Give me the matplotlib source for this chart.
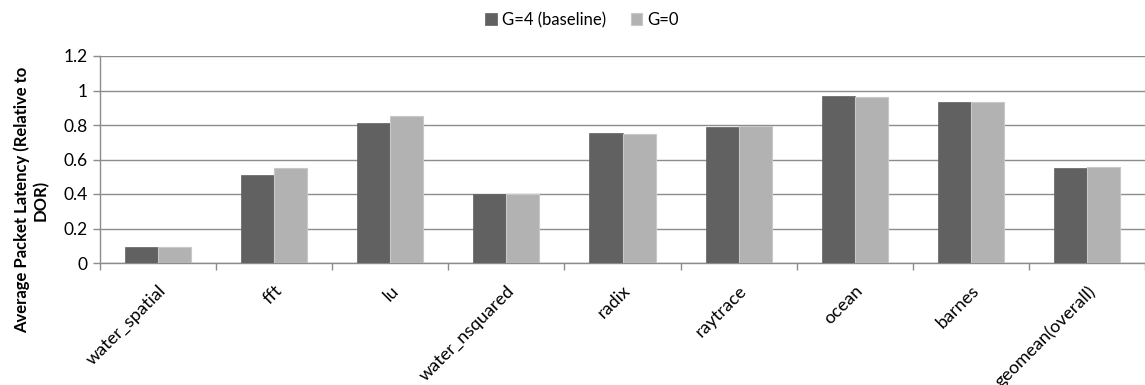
import matplotlib
matplotlib.use("Agg")
import matplotlib.pyplot as plt
import numpy as np

categories = ["water_spatial", "fft", "lu", "water_nsquared", "radix", "raytrace",
              "ocean", "barnes", "geomean(overall)"]
g4 = [0.095, 0.51, 0.81, 0.40, 0.752, 0.79, 0.968, 0.935, 0.552]
g0 = [0.092, 0.55, 0.852, 0.398, 0.745, 0.795, 0.96, 0.935, 0.557]
series_names = ["G=4 (baseline)", "G=0"]
yticks = [0, 0.2, 0.4, 0.6, 0.8, 1.0, 1.2]
ytick_labels = ["0", "0.2", "0.4", "0.6", "0.8", "1", "1.2"]

plt.rcParams['font.family'] = ['Lato', 'DejaVu Sans']

fig = plt.figure(figsize=(11.45, 3.85), dpi=100)
ax = fig.add_axes([100/1145, 1-263/385, 1-100/1145, (263-56)/385])

x = np.arange(len(categories))
w = 0.285
ax.bar(x - w/2, g4, w, color="#616161", edgecolor="#616161", linewidth=0.5, label=series_names[0], zorder=3)
ax.bar(x + w/2, g0, w, color="#b2b2b2", edgecolor="#c8c8c8", linewidth=0.8, label=series_names[1], zorder=3)

ax.set_xlim(-0.5, len(categories) - 0.5)
ax.set_ylim(0, 1.2)
ax.set_yticks(yticks)
ax.set_yticklabels(ytick_labels, fontsize=12.5)
ax.yaxis.grid(True, color="#8c8c8c", linewidth=1.0, zorder=0)
ax.set_axisbelow(True)

ax.set_xticks(x)
ax.set_xticklabels(categories, rotation=45, ha="right", rotation_mode="anchor", fontsize=13)
ax.tick_params(axis="x", length=0, pad=14)
ax.set_xticks(np.arange(len(categories) + 1) - 0.5, minor=True)
ax.tick_params(axis="x", which="minor", length=5, color="#8c8c8c", width=1)
ax.tick_params(axis="y", length=5, color="#8c8c8c", width=1, pad=4)

for s in ["top", "right"]:
    ax.spines[s].set_visible(False)
for s in ["left", "bottom"]:
    ax.spines[s].set_color("#8c8c8c")
    ax.spines[s].set_linewidth(1)

fig.text(31/1145, 1-200/385, "Average Packet Latency (Relative to\nDOR)", rotation=90,
         ha="center", va="center", multialignment="center", fontsize=12, fontweight="bold")

fig.legend(loc="center", bbox_to_anchor=(582/1145, 1-20/385), ncol=2, frameon=False, fontsize=12,
           handlelength=0.7, handleheight=0.7, handletextpad=0.3, columnspacing=1.5)

fig.savefig("out.png", dpi=100)
